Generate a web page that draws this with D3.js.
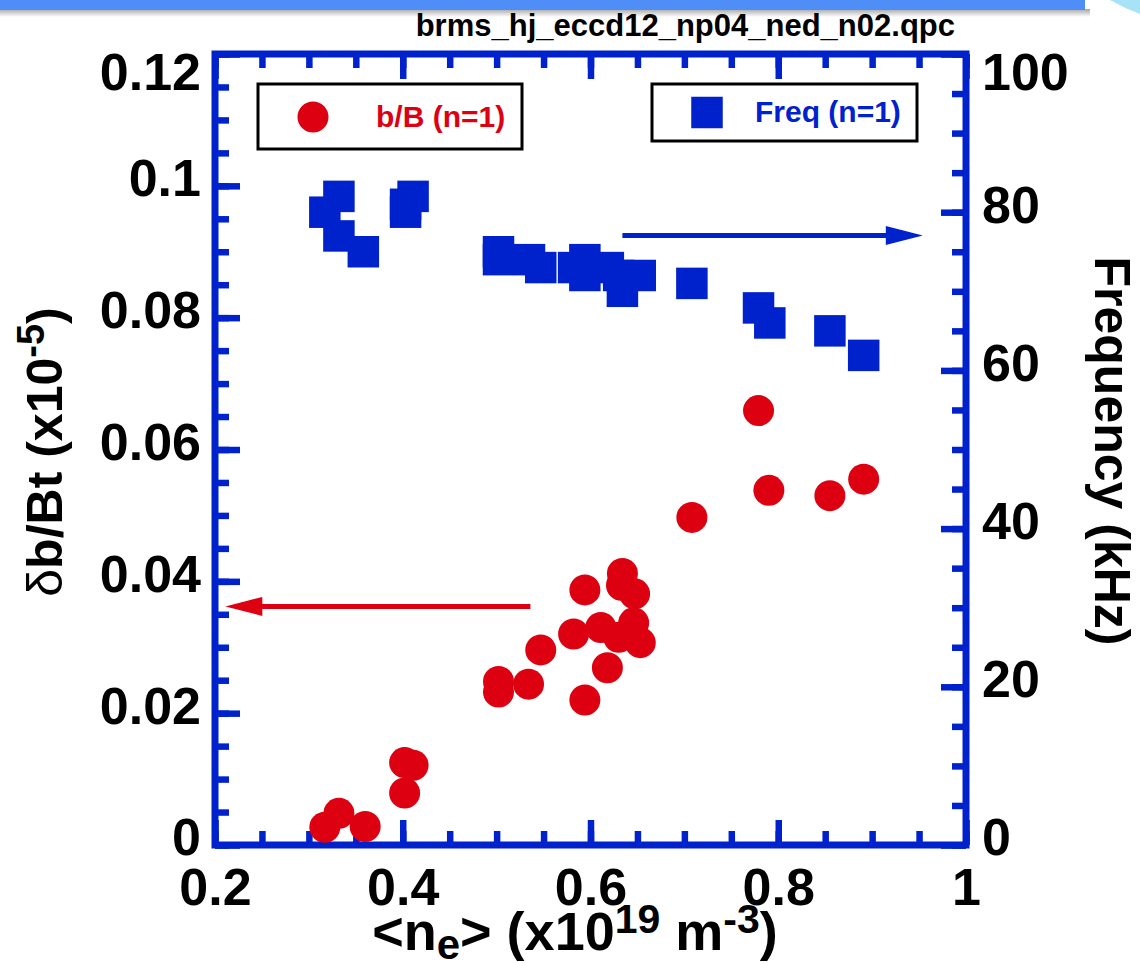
<!DOCTYPE html>
<html>
<head>
<meta charset="utf-8">
<script src="https://cdn.jsdelivr.net/npm/d3@7/dist/d3.min.js"></script>
<style>
  html, body { margin: 0; padding: 0; background: #ffffff; }
  svg { display: block; }
</style>
</head>
<body>
<svg id="chart" width="1140" height="963"></svg>
<script>
// ---------------- data ----------------
const fileTitle = "brms_hj_eccd12_np04_ned_n02.qpc";

// Frequency (n=1), kHz vs <ne>
const freqDensity = [0.317, 0.332, 0.332, 0.358, 0.403, 0.403, 0.411, 0.502, 0.502, 0.535, 0.547, 0.582, 0.594, 0.594, 0.619, 0.630, 0.634, 0.653, 0.708, 0.779, 0.791, 0.855, 0.891];
const freqValues  = [80.0, 82.0, 77.0, 75.0, 80.0, 81.0, 82.0, 75.0, 74.0, 74.0, 73.0, 73.0, 74.0, 72.0, 73.0, 72.0, 70.0, 72.0, 71.0, 67.9, 66.0, 65.0, 61.9];

// b/B (n=1), x10^-5 vs <ne>
const bDensity = [0.317, 0.332, 0.360, 0.402, 0.411, 0.402, 0.502, 0.502, 0.534, 0.547, 0.582, 0.594, 0.594, 0.611, 0.618, 0.630, 0.634, 0.633, 0.647, 0.646, 0.653, 0.708, 0.779, 0.790, 0.855, 0.891];
const bValues  = [0.0027, 0.0048, 0.0028, 0.0125, 0.0121, 0.0079, 0.0248, 0.0232, 0.0244, 0.0296, 0.0320, 0.0387, 0.0220, 0.0330, 0.0269, 0.0315, 0.0412, 0.0394, 0.0381, 0.0337, 0.0307, 0.0497, 0.0659, 0.0538, 0.0530, 0.0555];

// annotation arrows: [x start, x end, level]
const freqArrow = [0.634, 0.954, 77.05];
const bArrow    = [0.536, 0.211, 0.0362];

// ticks
const xMajor = [0.2, 0.4, 0.6, 0.8, 1.0];
const xTickLabels = ["0.2", "0.4", "0.6", "0.8", "1"];
const yLeftMajor = [0, 0.02, 0.04, 0.06, 0.08, 0.1, 0.12];
const yLeftTickLabels = ["0", "0.02", "0.04", "0.06", "0.08", "0.1", "0.12"];
const yRightMajor = [0, 20, 40, 60, 80, 100];
const yRightTickLabels = ["0", "20", "40", "60", "80", "100"];
const xMinor = d3.range(0, 17).map(i => 0.2 + i * 0.05);
const yLeftMinor = d3.range(0, 25).map(i => i * 0.005);
const yRightMinor = d3.range(0, 21).map(i => i * 5);

const legendB = "b/B (n=1)";
const legendF = "Freq (n=1)";

// ---------------- layout ----------------
const L = 215, R = 966, T = 54, B = 845;
const BLUE = "#0022cc", RED = "#dd0011";
const FONT = "'Liberation Sans', Arial, Helvetica, sans-serif";

const svg = d3.select("#chart");

const x = d3.scaleLinear().domain([0.2, 1.0]).range([L, R]);
const yL = d3.scaleLinear().domain([0, 0.12]).range([B, T]);
const yR = d3.scaleLinear().domain([0, 100]).range([B, T]);

// ---------------- decorations at top ----------------
const defs = svg.append("defs");
const grad = defs.append("linearGradient").attr("id", "shadow").attr("x1", 0).attr("y1", 0).attr("x2", 0).attr("y2", 1);
grad.append("stop").attr("offset", "0%").attr("stop-color", "#000").attr("stop-opacity", 0.35);
grad.append("stop").attr("offset", "100%").attr("stop-color", "#000").attr("stop-opacity", 0);
svg.append("rect").attr("x", 0).attr("y", 9).attr("width", 1090).attr("height", 8).attr("fill", "url(#shadow)");
svg.append("rect").attr("x", 0).attr("y", 0).attr("width", 1085).attr("height", 10).attr("fill", "#4f8ef6");
svg.append("path").attr("d", "M1110,0 L1140,0 L1140,14 Q1124,8 1110,0 Z").attr("fill", "#a8e2f6");

// file title
svg.append("text")
  .attr("x", 955).attr("y", 36)
  .attr("text-anchor", "end")
  .attr("font-family", FONT).attr("font-weight", "bold").attr("font-size", 31)
  .attr("fill", "#000")
  .text(fileTitle);

// ---------------- ticks ----------------
function styleTicks(g) {
  g.select(".domain").remove();
  g.selectAll(".tick line").attr("stroke", BLUE).attr("stroke-width", 6.5);
  g.selectAll(".tick text").remove();
}
const tickLayer = svg.append("g");
tickLayer.append("g").attr("transform", `translate(0,${B})`).call(d3.axisBottom(x).tickValues(xMinor).tickSize(-14)).call(styleTicks);
tickLayer.append("g").attr("transform", `translate(0,${B})`).call(d3.axisBottom(x).tickValues(xMajor).tickSize(-25)).call(styleTicks);
tickLayer.append("g").attr("transform", `translate(0,${T})`).call(d3.axisTop(x).tickValues(xMinor).tickSize(-14)).call(styleTicks);
tickLayer.append("g").attr("transform", `translate(0,${T})`).call(d3.axisTop(x).tickValues(xMajor).tickSize(-25)).call(styleTicks);
tickLayer.append("g").attr("transform", `translate(${L},0)`).call(d3.axisLeft(yL).tickValues(yLeftMinor).tickSize(-14)).call(styleTicks);
tickLayer.append("g").attr("transform", `translate(${L},0)`).call(d3.axisLeft(yL).tickValues(yLeftMajor).tickSize(-25)).call(styleTicks);
tickLayer.append("g").attr("transform", `translate(${R},0)`).call(d3.axisRight(yR).tickValues(yRightMinor).tickSize(-14)).call(styleTicks);
tickLayer.append("g").attr("transform", `translate(${R},0)`).call(d3.axisRight(yR).tickValues(yRightMajor).tickSize(-25)).call(styleTicks);

// frame
svg.append("rect").attr("x", L).attr("y", T).attr("width", R - L).attr("height", B - T)
  .attr("fill", "none").attr("stroke", BLUE).attr("stroke-width", 7);

// ---------------- tick labels ----------------
function styleLabels(g) {
  g.select(".domain").remove();
  g.selectAll(".tick line").remove();
  g.attr("font-family", FONT).attr("font-size", 52).attr("font-weight", "bold");
  g.selectAll(".tick text").attr("fill", "#000");
}
svg.append("g").attr("transform", `translate(0,${B})`)
  .call(d3.axisBottom(x).tickValues(xMajor).tickSize(0).tickPadding(23).tickFormat((d, i) => xTickLabels[i]))
  .call(styleLabels);
svg.append("g").attr("transform", `translate(${L},0)`)
  .call(d3.axisLeft(yL).tickValues(yLeftMajor).tickSize(0).tickPadding(14).tickFormat((d, i) => yLeftTickLabels[i]))
  .call(styleLabels)
  .selectAll(".tick text").attr("dy", (d, i) => i === yLeftMajor.length - 1 ? "0.68em" : "0.19em");
svg.append("g").attr("transform", `translate(${R},0)`)
  .call(d3.axisRight(yR).tickValues(yRightMajor).tickSize(0).tickPadding(16).tickFormat((d, i) => yRightTickLabels[i]))
  .call(styleLabels)
  .selectAll(".tick text").attr("dy", (d, i) => i === yRightMajor.length - 1 ? "0.68em" : "0.19em");

// ---------------- axis titles ----------------
const xt = svg.append("text")
  .attr("x", 575).attr("y", 950)
  .attr("text-anchor", "middle")
  .attr("font-family", FONT).attr("font-weight", "bold").attr("font-size", 54).attr("fill", "#000");
xt.append("tspan").text("<n");
xt.append("tspan").attr("font-size", 42).attr("dy", 9).text("e");
xt.append("tspan").attr("dy", -9).text("> (x10");
xt.append("tspan").attr("font-size", 41).attr("dy", -17).text("19");
xt.append("tspan").attr("dy", 17).text(" m");
xt.append("tspan").attr("font-size", 41).attr("dy", -17).text("-3");
xt.append("tspan").attr("dy", 17).text(")");

const ylt = svg.append("text")
  .attr("transform", "translate(62,452) rotate(-90)")
  .attr("text-anchor", "middle")
  .attr("font-family", FONT).attr("font-weight", "bold").attr("font-size", 50).attr("fill", "#000");
ylt.append("tspan").attr("font-weight", "normal").text("δ");
ylt.append("tspan").text("b/Bt (x10");
ylt.append("tspan").attr("font-size", 38).attr("dy", -18).text("-5");
ylt.append("tspan").attr("dy", 18).text(")");

svg.append("text")
  .attr("transform", "translate(1095,451) rotate(90)")
  .attr("text-anchor", "middle")
  .attr("font-family", FONT).attr("font-weight", "bold").attr("font-size", 50).attr("fill", "#000")
  .text("Frequency (kHz)");

// ---------------- data marks ----------------
const SQ = 31.5, RAD = 15.5;
svg.append("g").selectAll("rect")
  .data(freqDensity.map((d, i) => [d, freqValues[i]]))
  .join("rect")
  .attr("x", d => x(d[0]) - SQ / 2).attr("y", d => yR(d[1]) - SQ / 2)
  .attr("width", SQ).attr("height", SQ)
  .attr("fill", BLUE);

svg.append("g").selectAll("circle")
  .data(bDensity.map((d, i) => [d, bValues[i]]))
  .join("circle")
  .attr("cx", d => x(d[0])).attr("cy", d => yL(d[1]))
  .attr("r", RAD)
  .attr("fill", RED);

// ---------------- arrows ----------------
function arrow(x0, x1, yy, color) {
  const dir = Math.sign(x1 - x0);
  const headLen = 37, headHalf = 9.5;
  svg.append("line")
    .attr("x1", x0).attr("x2", x1 - dir * headLen + dir * 2)
    .attr("y1", yy).attr("y2", yy)
    .attr("stroke", color).attr("stroke-width", 5);
  svg.append("path")
    .attr("d", `M${x1},${yy} L${x1 - dir * headLen},${yy - headHalf} L${x1 - dir * headLen},${yy + headHalf} Z`)
    .attr("fill", color);
}
arrow(x(freqArrow[0]), x(freqArrow[1]), yR(freqArrow[2]), BLUE);
arrow(x(bArrow[0]), x(bArrow[1]), yL(bArrow[2]), RED);

// ---------------- legends ----------------
const lg1 = svg.append("g");
lg1.append("rect").attr("x", 258).attr("y", 84).attr("width", 264).attr("height", 65)
  .attr("fill", "none").attr("stroke", "#000").attr("stroke-width", 3);
lg1.append("circle").attr("cx", 313).attr("cy", 117).attr("r", RAD).attr("fill", RED);
lg1.append("text").attr("x", 376).attr("y", 127)
  .attr("font-family", FONT).attr("font-weight", "bold").attr("font-size", 30).attr("fill", RED)
  .text(legendB);

const lg2 = svg.append("g");
lg2.append("rect").attr("x", 652).attr("y", 84).attr("width", 265).attr("height", 57)
  .attr("fill", "none").attr("stroke", "#000").attr("stroke-width", 3);
lg2.append("rect").attr("x", 707 - SQ / 2).attr("y", 112.5 - SQ / 2).attr("width", SQ).attr("height", SQ).attr("fill", BLUE);
lg2.append("text").attr("x", 755).attr("y", 122)
  .attr("font-family", FONT).attr("font-weight", "bold").attr("font-size", 30).attr("fill", BLUE)
  .text(legendF);
</script>
</body>
</html>
